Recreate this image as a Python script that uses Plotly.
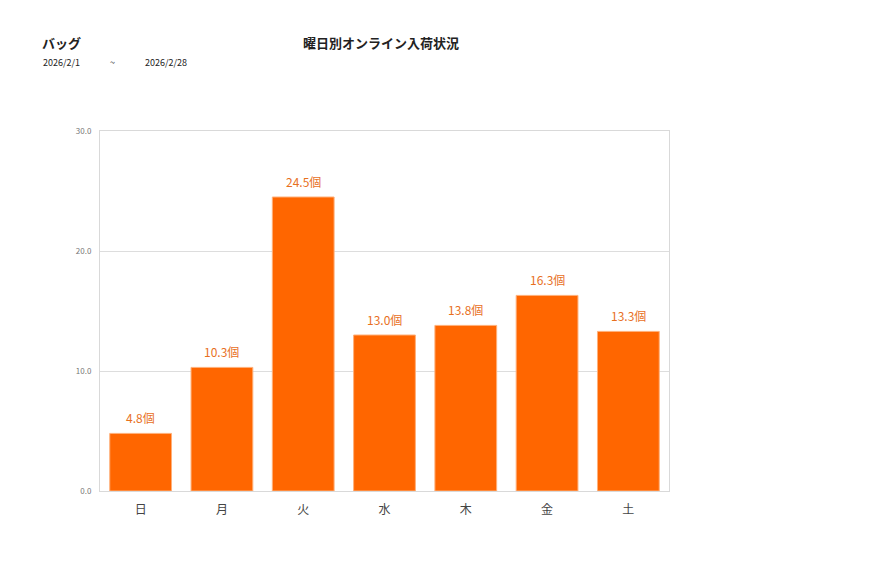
import plotly.graph_objects as go

# Data
days = ['日', '月', '火', '水', '木', '金', '土']
values = [4.8, 10.3, 24.5, 13.0, 13.8, 16.3, 13.3]
y_ticks = [0, 10, 20, 30]
y_tick_labels = ['0.0', '10.0', '20.0', '30.0']

font_family = 'Noto Sans CJK JP, Noto Sans, sans-serif'

# page has an 8px body margin, so pixel targets are shifted by it
L, T, R, B = 92, 123, 216, 95
plot_w = 877 - L - R
plot_h = 578 - T - B

fig = go.Figure()

fig.add_trace(go.Bar(
    x=days,
    y=values,
    marker=dict(color='#FF6600', line=dict(color='#FFB07A', width=1)),
    hoverinfo='skip'
))

# value labels above bars
anns = []
for d, v in zip(days, values):
    anns.append(dict(
        x=d, y=v, xref='x', yref='y', text=f'{v:.1f}個',
        showarrow=False, yanchor='bottom', yshift=5,
        font=dict(color='#E8701E', size=12, family=font_family),
    ))


def header(text, px, py, size):
    # px, py: pixel positions in the reference picture
    return dict(
        text=text, xref='paper', yref='paper',
        x=(px - 8 - L) / plot_w,
        y=1 + (T - (py - 8)) / plot_h,
        xanchor='center', yanchor='middle', showarrow=False,
        font=dict(size=size, color='#222222', family=font_family),
    )


anns += [
    header('<b>バッグ</b>', 61, 42, 13),
    header('<b>曜日別オンライン入荷状況</b>', 381, 42, 13),
    header('2026/2/1', 61, 62, 9),
    header('~', 112, 62, 9),
    header('2026/2/28', 166, 62, 9),
]

fig.update_layout(
    width=877,
    height=578,
    margin=dict(l=L, r=R, t=T, b=B),
    paper_bgcolor='white',
    plot_bgcolor='white',
    bargap=0.24,
    showlegend=False,
    font=dict(family=font_family),
    xaxis=dict(
        showgrid=False,
        showline=True,
        linecolor='#D9D9D9',
        mirror=True,
        ticks='',
        ticklabelstandoff=8,
        tickfont=dict(size=12, color='#444444'),
    ),
    yaxis=dict(
        range=[0, 30],
        tickvals=y_ticks,
        ticktext=y_tick_labels,
        showgrid=True,
        gridcolor='#DDDDDD',
        showline=True,
        linecolor='#D9D9D9',
        mirror=True,
        zeroline=False,
        ticks='',
        ticklabelstandoff=6,
        tickfont=dict(size=8, color='#777777'),
    ),
    annotations=anns,
)

fig.write_html("out.html")
